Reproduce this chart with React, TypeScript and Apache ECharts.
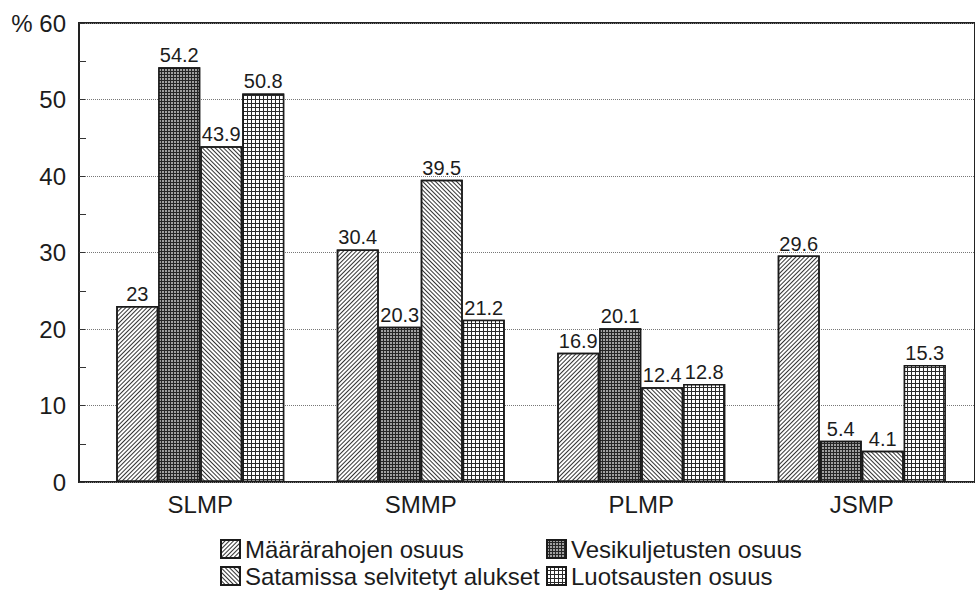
import React, { useEffect, useRef } from "react";
import * as echarts from "echarts";

const categories = ["SLMP", "SMMP", "PLMP", "JSMP"];
const seriesNames = [
  "Määrärahojen osuus",
  "Vesikuljetusten osuus",
  "Satamissa selvitetyt alukset",
  "Luotsausten osuus",
];
const maararahat = [23, 30.4, 16.9, 29.6];
const vesikuljetukset = [54.2, 20.3, 20.1, 5.4];
const satamissa = [43.9, 39.5, 12.4, 4.1];
const luotsaukset = [50.8, 21.2, 12.8, 15.3];
const yMin = 0;
const yMax = 60;
const yInterval = 10;

const FONT = "'Liberation Sans', Arial, sans-serif";
const INK = "#1c1c1c";

export default function App() {
  const ref = useRef<HTMLDivElement>(null);

  useEffect(() => {
    if (!ref.current) return;
    const chart = echarts.init(ref.current, null, { renderer: "svg" });

    const hatchA = {
      symbol: "rect",
      symbolSize: 1,
      dashArrayX: [1, 0],
      dashArrayY: [1, 2],
      rotation: -Math.PI / 4,
      color: "#333333",
    };
    const dotsB = {
      symbol: "rect",
      symbolSize: 0.75,
      dashArrayX: [2, 1],
      dashArrayY: [2, 1],
      color: "#ffffff",
    };
    const hatchC = {
      symbol: "rect",
      symbolSize: 1,
      dashArrayX: [1, 0],
      dashArrayY: [1, 2],
      rotation: Math.PI / 4,
      color: "#333333",
    };
    const gridD = {
      symbol: "rect",
      symbolSize: 1,
      dashArrayX: [3, 1],
      dashArrayY: [3, 1],
      color: "#ffffff",
    };

    const styles = [
      { color: "#ffffff", decal: hatchA },
      { color: "#262626", decal: dotsB },
      { color: "#ffffff", decal: hatchC },
      { color: "#2a2a2a", decal: gridD },
    ];
    const dataSets = [maararahat, vesikuljetukset, satamissa, luotsaukset];

    const legendPos = [
      { left: 220, top: 537 },
      { left: 546, top: 537 },
      { left: 220, top: 564 },
      { left: 546, top: 564 },
    ];

    const option: any = {
      animation: false,
      backgroundColor: "#ffffff",
      textStyle: { fontFamily: FONT, color: INK },
      grid: [
        { left: 90, right: 3, top: 23, bottom: 112 },
        {
          left: 79,
          right: -4,
          top: 23,
          bottom: 112,
          show: true,
          borderColor: "#222",
          borderWidth: 2,
          backgroundColor: "transparent",
        },
      ],
      xAxis: [
        {
          type: "category",
          gridIndex: 0,
          data: categories,
          axisLine: { show: false },
          axisTick: { show: false },
          axisLabel: {
            fontSize: 24,
            color: INK,
            fontFamily: FONT,
            margin: 10,
          },
        },
        { type: "value", gridIndex: 1, show: false, min: 0, max: 1 },
      ],
      yAxis: [
        {
          type: "value",
          gridIndex: 0,
          min: yMin,
          max: yMax,
          interval: yInterval,
          show: false,
        },
        {
          type: "value",
          gridIndex: 1,
          min: yMin,
          max: yMax,
          interval: yInterval,
          axisLine: { show: false },
          axisTick: {
            show: true,
            inside: true,
            length: 6,
            lineStyle: { color: "#333", width: 1 },
          },
          minorTick: {
            show: true,
            splitNumber: 2,
            length: 7,
            lineStyle: { color: "#333", width: 1 },
          },
          splitLine: {
            show: true,
            lineStyle: { type: "dotted", color: "#777", width: 1 },
          },
          axisLabel: {
            fontSize: 24,
            color: INK,
            fontFamily: FONT,
            margin: 13,
            formatter: (v: number) => (v === yMax ? "% " + v : String(v)),
          },
        },
      ],
      legend: seriesNames.map((name, i) => ({
        data: [name],
        left: legendPos[i].left,
        top: legendPos[i].top,
        orient: "horizontal",
        icon: "rect",
        itemWidth: 19,
        itemHeight: 18,
        padding: 0,
        selectedMode: false,
        textStyle: { fontSize: 24, lineHeight: 24, color: INK, fontFamily: FONT },
      })),
      series: seriesNames.map((name, i) => ({
        name,
        type: "bar",
        xAxisIndex: 0,
        yAxisIndex: 0,
        data: dataSets[i],
        barWidth: 42,
        barGap: "0%",
        itemStyle: {
          color: styles[i].color,
          decal: styles[i].decal,
          borderColor: "#1a1a1a",
          borderWidth: 1.5,
        },
        label: {
          show: true,
          position: "top",
          distance: 2,
          fontSize: 20,
          color: INK,
          fontFamily: FONT,
        },
      })),
    };

    chart.setOption(option);
    return () => chart.dispose();
  }, []);

  return (
    <div
      ref={ref}
      style={{ position: "fixed", left: 0, top: 0, width: 975, height: 594, background: "#fff" }}
    />
  );
}
